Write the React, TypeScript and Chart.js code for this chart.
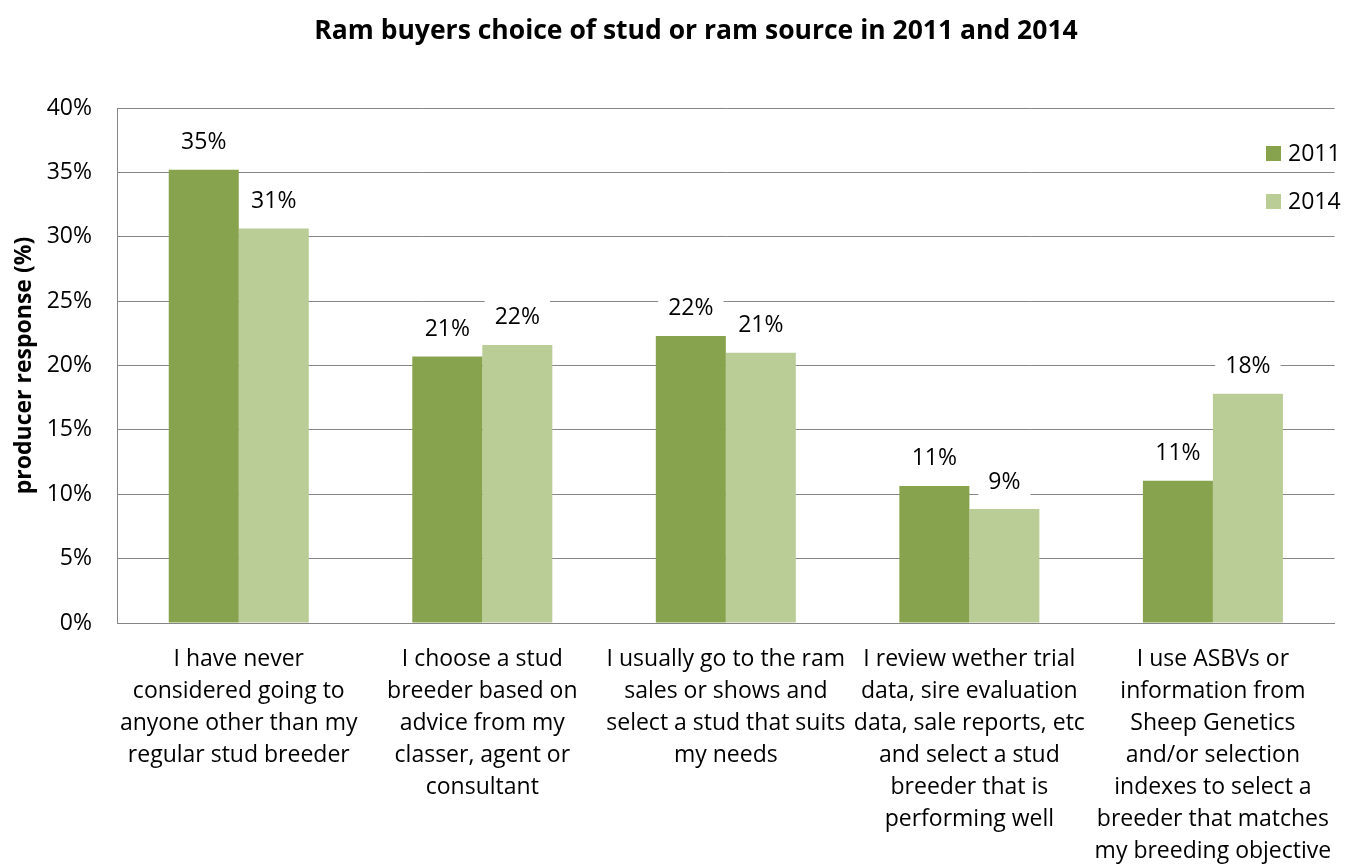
import React, { useEffect, useRef } from "react";
import { Chart, registerables } from "chart.js";

Chart.register(...registerables);

const TITLE = "Ram buyers choice of stud or ram source in 2011 and 2014";
const Y_TITLE = "producer response (%)";
const SERIES_NAMES = ["2011", "2014"];
const CATEGORIES: string[][] = [
  ["I have never", "considered going to", "anyone other than my", "regular stud breeder"],
  ["I choose a stud", "breeder based on", "advice from my", "classer, agent or", "consultant"],
  ["I usually go to the ram", "sales or shows and", "select a stud that suits", "my needs"],
  ["I review wether trial", "data, sire evaluation", "data, sale reports, etc", "and select a stud", "breeder that is", "performing well"],
  ["I use ASBVs or", "information from", "Sheep Genetics", "and/or selection", "indexes to select a", "breeder that matches", "my breeding objective"],
];
const VALUES_2011 = [35.2, 20.7, 22.3, 10.65, 11.05];
const VALUES_2014 = [30.65, 21.6, 21.0, 8.85, 17.8];
const COLORS = ["#87A34D", "#BBCD97"];

const FONT = "'Open Sans', Lato, sans-serif";

const labelPlugin = {
  id: "barLabels",
  afterDatasetsDraw(chart: any) {
    const ctx = chart.ctx;
    ctx.save();
    ctx.font = `23px ${FONT}`;
    ctx.textAlign = "center";
    ctx.textBaseline = "middle";
    chart.data.datasets.forEach((ds: any, di: number) => {
      const meta = chart.getDatasetMeta(di);
      meta.data.forEach((el: any, i: number) => {
        const v = ds.data[i];
        const txt = Math.round(v) + "%";
        const cy = el.y - 27;
        const w = ctx.measureText(txt).width;
        ctx.fillStyle = "#ffffff";
        ctx.fillRect(el.x - w / 2 - 10, cy - 18, w + 20, 34);
        ctx.fillStyle = "#000000";
        ctx.fillText(txt, el.x, cy);
      });
    });
    ctx.restore();
  },
};

const decorPlugin = {
  id: "decor",
  afterDraw(chart: any) {
    const ctx = chart.ctx;
    ctx.save();
    ctx.font = `bold 26.5px ${FONT}`;
    ctx.fillStyle = "#000";
    ctx.textAlign = "center";
    ctx.textBaseline = "middle";
    ctx.fillText(TITLE, 696, 31);
    // legend
    ctx.font = `23px ${FONT}`;
    ctx.textAlign = "left";
    const ys = [153, 201];
    chart.data.datasets.forEach((ds: any, i: number) => {
      ctx.fillStyle = ds.backgroundColor;
      ctx.fillRect(1266, ys[i] - 7, 15, 15);
      ctx.fillStyle = "#000";
      ctx.fillText(ds.label, 1288, ys[i] + 1);
    });
    ctx.restore();
  },
};

export default function App() {
  const ref = useRef<HTMLCanvasElement | null>(null);
  useEffect(() => {
    if (!ref.current) return;
    const chart = new Chart(ref.current, {
      type: "bar",
      data: {
        labels: CATEGORIES,
        datasets: [
          { label: SERIES_NAMES[0], data: VALUES_2011, backgroundColor: COLORS[0] },
          { label: SERIES_NAMES[1], data: VALUES_2014, backgroundColor: COLORS[1] },
        ],
      },
      options: {
        responsive: false,
        animation: false,
        devicePixelRatio: 1,
        layout: { padding: { top: 108, right: 18, bottom: 0, left: 0 } },
        datasets: { bar: { barPercentage: 1, categoryPercentage: 0.575 } },
        plugins: { legend: { display: false }, title: { display: false }, tooltip: { enabled: false } },
        scales: {
          x: {
            grid: { display: false, drawTicks: false },
            border: { display: true, color: "#868686", width: 1 },
            ticks: {
              autoSkip: false,
              maxRotation: 0,
              minRotation: 0,
              padding: 20,
              color: "#000",
              font: { family: FONT, size: 23, lineHeight: "32px" },
            },
            afterFit(scale: any) {
              scale.height = 241;
            },
          },
          y: {
            min: 0,
            max: 40,
            grid: { color: "#868686", lineWidth: 1, drawTicks: false },
            border: { display: true, color: "#868686", width: 1 },
            ticks: {
              stepSize: 5,
              padding: 25,
              color: "#000",
              font: { family: FONT, size: 23 },
              callback: (v: any) => v + "%",
            },
            title: {
              display: true,
              text: Y_TITLE,
              color: "#000",
              font: { family: FONT, size: 23, weight: "bold" },
              padding: { top: 11, bottom: 0 },
            },
            afterFit(scale: any) {
              scale.width = 117;
            },
          },
        },
      },
      plugins: [labelPlugin, decorPlugin],
    });
    return () => chart.destroy();
  }, []);
  return (
    <div style={{ position: "fixed", left: 0, top: 0, width: 1353, height: 864, background: "#fff" }}>
      <canvas ref={ref} width={1353} height={864} style={{ display: "block" }} />
    </div>
  );
}
